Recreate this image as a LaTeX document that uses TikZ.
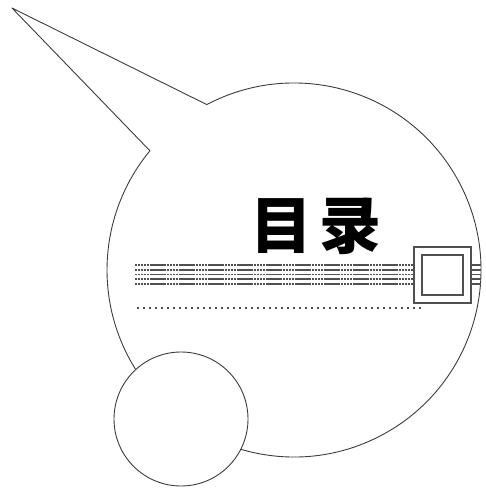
\documentclass[tikz,border=0pt]{standalone}
\usepackage{fontspec}
\usepackage{xcolor}
\newfontfamily\cjk{Noto Sans CJK SC}
\definecolor{inkgray}{RGB}{60,60,60}
\definecolor{rulegray}{RGB}{80,80,80}

\tikzset{
  outline/.style={draw=inkgray, line width=0.9pt, line join=round},
  rule/.style={draw=rulegray, line width=1.3pt, dash pattern=on 2.4pt off 0.5pt},
  dotrule/.style={draw=rulegray, line width=1.3pt, dash pattern=on 2.2pt off 3.8pt},
  frame/.style={draw=rulegray, line width=1.3pt, fill=white}
}

\begin{document}
\begin{tikzpicture}[x=1pt, y=-1pt]
    \useasboundingbox (0,0) rectangle (486,495);

    % Speech bubble: tail plus big circle
    \coordinate (tip) at (12,8);
    \coordinate (bubblec) at (294,270);
    \draw[outline] (tip) -- ([shift={(242.2:187)}]bubblec)
        arc[start angle=242.2, end angle=579.6, radius=187] -- cycle;

    % Title
    \node[font=\cjk\bfseries\fontsize{62}{62}\selectfont, inner sep=0pt] (mu) at (281,226.5) {目};
    \node[font=\cjk\bfseries\fontsize{62}{62}\selectfont, inner sep=0pt] (lu) at (350,226.5) {录};

    % Ruled lines
    \foreach \y in {265,270,274.5,279,284}
        \draw[rule] (135,\y) -- (481,\y);
    \draw[dotrule] (137,308) -- (421,308);

    % Square on the lines
    \node[frame, minimum width=57pt, minimum height=56pt, inner sep=0pt] (outerbox) at (442.5,275) {};
    \node[frame, minimum width=41pt, minimum height=40pt, inner sep=0pt] (innerbox) at (outerbox.center) {};

    % Small circle over the bubble
    \draw[outline, fill=white] (181,419) circle (67);
\end{tikzpicture}
\end{document}
